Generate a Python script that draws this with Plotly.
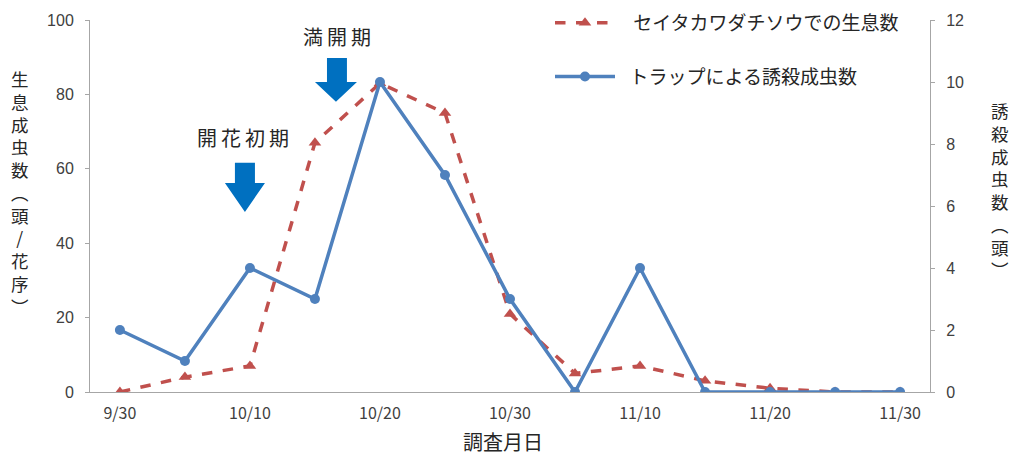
import plotly.graph_objects as go

dates = ["9/30", "10/5", "10/10", "10/15", "10/20", "10/25", "10/30",
         "11/5", "11/10", "11/15", "11/20", "11/25", "11/30"]
live_counts = [0, 4, 7, 67, 83, 75, 21, 5, 7, 3, 1, 0, 0]
trap_counts = [2, 1, 4, 3, 10, 7, 3, 0, 4, 0, 0, 0, 0]
tick_labels = ["9/30", "10/10", "10/20", "10/30", "11/10", "11/20", "11/30"]

FONT = "Noto Sans CJK JP"
NUMFONT = "Liberation Sans"
RED = "#C0504D"
BLUE = "#4F81BD"
ARROW = "#0070C0"
TXT = "#262626"

xidx = list(range(len(dates)))

fig = go.Figure()
fig.add_trace(go.Scatter(
    x=xidx, y=live_counts, name="\u2002\u2009セイタカワダチソウでの生息数",
    mode="lines+markers", legendgroup="a",
    line=dict(color=RED, width=3.5, dash="dash"),
    marker=dict(symbol="triangle-up", size=11, color=RED),
    yaxis="y"))
fig.add_trace(go.Scatter(
    x=xidx, y=trap_counts, name="\u2002トラップによる誘殺成虫数",
    mode="lines+markers", legendgroup="b",
    line=dict(color=BLUE, width=3.5),
    marker=dict(symbol="circle", size=10, color=BLUE),
    yaxis="y2"))

def block_arrow(x0, x1, hx0, hx1, ytop, yhead, ytip):
    xm = (hx0 + hx1) / 2
    return (f"M{x0},{ytop} L{x1},{ytop} L{x1},{yhead} L{hx1},{yhead} "
            f"L{xm},{ytip} L{hx0},{yhead} L{x0},{yhead} Z")

shapes = [
    dict(type="path", xref="x", yref="y",
         path=block_arrow(1.769, 2.077, 1.615, 2.231, 61.6, 56.2, 48.4),
         fillcolor=ARROW, line=dict(width=0)),
    dict(type="path", xref="x", yref="y",
         path=block_arrow(3.185, 3.492, 3.0, 3.646, 89.8, 83.3, 78.0),
         fillcolor=ARROW, line=dict(width=0)),
]

left_title = "<br>".join(list("生息成虫数") + ["︵", "頭", "/", "花", "序", "︶"])
right_title = "<br>".join(list("誘殺成虫数") + ["︵", "頭", "︶"])
sp = "\u2009"

W, H = 1020, 459
ML, MR, MT, MB = 90, 90, 20, 67
PW, PH = W - ML - MR, H - MT - MB

def px(xp, yp):
    return (xp - ML) / PW, (H - MB - yp) / PH

annotations = [
    dict(text=sp.join("開花初期"), x=1.9, y=68.5, xref="x", yref="y", showarrow=False,
         font=dict(size=20, color=TXT, family=FONT)),
    dict(text=sp.join("満開期"), x=3.34, y=95.5, xref="x", yref="y", showarrow=False,
         font=dict(size=20, color=TXT, family=FONT)),
]
for text, xp, yp, size in [(left_title, 20, 192, 17.5),
                           (right_title, 1000, 190, 17.5),
                           ("調査月日", 503, 441, 20)]:
    xx, yy = px(xp, yp)
    annotations.append(dict(text=text, x=xx, y=yy, xref="paper", yref="paper",
                            xanchor="center", yanchor="middle",
                            showarrow=False, align="center",
                            font=dict(size=size, color=TXT, family=FONT)))

leg_x, leg_y = px(550, 4)

fig.update_layout(
    width=W, height=H,
    margin=dict(l=ML, r=MR, t=MT, b=MB, autoexpand=False),
    paper_bgcolor="white", plot_bgcolor="white",
    font=dict(family=FONT, size=15, color="#404040"),
    showlegend=True,
    legend=dict(x=leg_x, y=leg_y, xanchor="left", yanchor="top",
                font=dict(size=19, color=TXT, family=FONT),
                traceorder="grouped", tracegroupgap=26,
                bgcolor="rgba(255,255,255,0)", itemwidth=60),
    xaxis=dict(range=[-0.46, 12.46], tickmode="array",
               tickvals=[0, 2, 4, 6, 8, 10, 12], ticktext=tick_labels,
               showgrid=False, zeroline=False, showline=True,
               linecolor="#A6A6A6", linewidth=1,
               ticks="", ticklabelstandoff=7,
               tickfont=dict(size=16, color="#404040", family=FONT)),
    yaxis=dict(range=[0, 100], dtick=20, showgrid=False, zeroline=False,
               showline=True, linecolor="#A6A6A6", linewidth=1,
               ticks="outside", ticklen=4, tickcolor="#A6A6A6",
               ticklabelstandoff=8,
               tickfont=dict(size=16, color="#404040", family=NUMFONT)),
    yaxis2=dict(range=[0, 12], dtick=2, overlaying="y", side="right",
                showgrid=False, zeroline=False, showline=True,
                linecolor="#A6A6A6", linewidth=1,
                ticks="outside", ticklen=4, tickcolor="#A6A6A6",
                ticklabelstandoff=8,
                tickfont=dict(size=16, color="#404040", family=NUMFONT)),
    shapes=shapes,
    annotations=annotations,
)

fig.write_html("out.html")
